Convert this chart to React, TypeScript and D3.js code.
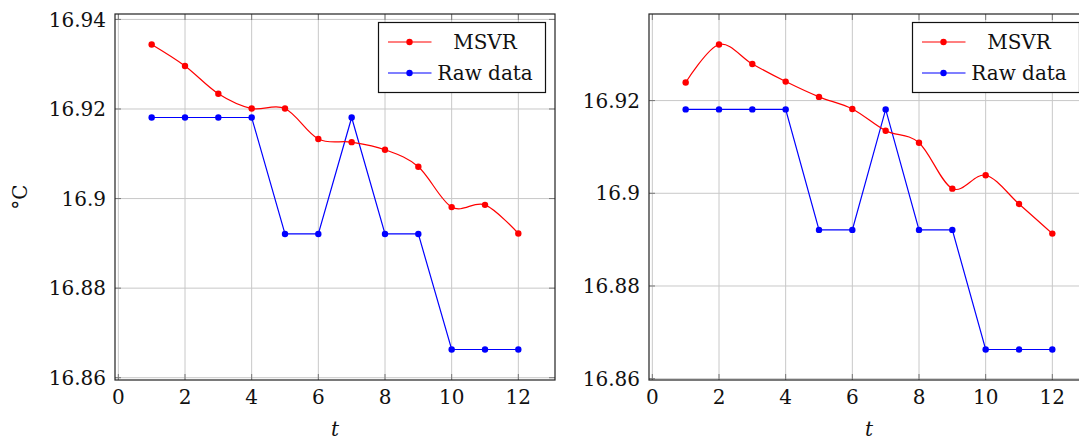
import React from 'react'
import * as d3 from 'd3'

// time steps
const steps = [1, 2, 3, 4, 5, 6, 7, 8, 9, 10, 11, 12]

// measured temperature (same in both panels)
const rawData = [16.9181, 16.9181, 16.9181, 16.9181, 16.8921, 16.8921, 16.9181, 16.8921, 16.8921, 16.8663, 16.8663, 16.8663]

// MSVR predictions
const msvrLeft = [16.9344, 16.9296, 16.9234, 16.9201, 16.9201, 16.9133, 16.9126, 16.9109, 16.9071, 16.8981, 16.8986, 16.8922]
const msvrRight = [16.9239, 16.9321, 16.9279, 16.9241, 16.9208, 16.9182, 16.9135, 16.9109, 16.9010, 16.9039, 16.8977, 16.8913]

const xTicks = [0, 2, 4, 6, 8, 10, 12]
const yTicksLeft = [16.86, 16.88, 16.9, 16.92, 16.94]
const yTicksRight = [16.86, 16.88, 16.9, 16.92]

const legendLabels = ['MSVR', 'Raw data']

const FONT = "'DejaVu Serif', serif"
const RED = '#ff0000'
const BLUE = '#0000ff'

function Panel({ left, msvr, yTicks, ylabel }) {
  const margin = { top: 14, bottom: 380 }
  const width = 440
  const right = left + width

  // pgfplots style enlarged limits (10% of range on each side)
  const xExt = d3.extent(steps)
  const xPad = (xExt[1] - xExt[0]) * 0.1
  const x = d3.scaleLinear()
    .domain([xExt[0] - xPad, xExt[1] + xPad])
    .range([left, right])

  const yExt = d3.extent([...msvr, ...rawData])
  const yPad = (yExt[1] - yExt[0]) * 0.1
  const y = d3.scaleLinear()
    .domain([yExt[0] - yPad, yExt[1] + yPad])
    .range([margin.bottom, margin.top])

  const smooth = d3.line()
    .x((d, i) => x(steps[i]))
    .y(d => y(d))
    .curve(d3.curveCardinal.tension(0))
  const straight = d3.line()
    .x((d, i) => x(steps[i]))
    .y(d => y(d))

  const fmt = v => String(+v.toFixed(2))

  const legW = 167, legH = 70
  const legX = right - 9.5 - legW
  const legY = margin.top + 8.5
  const series = [
    { name: legendLabels[0], color: RED },
    { name: legendLabels[1], color: BLUE }
  ]

  return (
    <g>
      {/* grid */}
      {xTicks.map(t => (
        <line key={'gx' + t} x1={x(t)} x2={x(t)} y1={margin.top} y2={margin.bottom}
          stroke="#c8c8c8" strokeWidth={1} />
      ))}
      {yTicks.map(t => (
        <line key={'gy' + t} x1={left} x2={right} y1={y(t)} y2={y(t)}
          stroke="#c8c8c8" strokeWidth={1} />
      ))}
      {/* inner tick marks */}
      {xTicks.map(t => (
        <g key={'tx' + t} stroke="#777" strokeWidth={1}>
          <line x1={x(t)} x2={x(t)} y1={margin.bottom} y2={margin.bottom - 6} />
          <line x1={x(t)} x2={x(t)} y1={margin.top} y2={margin.top + 6} />
        </g>
      ))}
      {yTicks.map(t => (
        <g key={'ty' + t} stroke="#777" strokeWidth={1}>
          <line x1={left} x2={left + 6} y1={y(t)} y2={y(t)} />
          <line x1={right} x2={right - 6} y1={y(t)} y2={y(t)} />
        </g>
      ))}

      {/* series */}
      <path d={straight(rawData)} fill="none" stroke={BLUE} strokeWidth={1.2} />
      {rawData.map((d, i) => (
        <circle key={'rb' + i} cx={x(steps[i])} cy={y(d)} r={3.2} fill={BLUE} />
      ))}
      <path d={smooth(msvr)} fill="none" stroke={RED} strokeWidth={1.2} />
      {msvr.map((d, i) => (
        <circle key={'mr' + i} cx={x(steps[i])} cy={y(d)} r={3.2} fill={RED} />
      ))}

      {/* axis box */}
      <rect x={left} y={margin.top} width={width} height={margin.bottom - margin.top}
        fill="none" stroke="#222" strokeWidth={1.2} />

      {/* tick labels */}
      {xTicks.map(t => (
        <text key={'lx' + t} x={x(t)} y={404} textAnchor="middle"
          fontFamily={FONT} fontSize={20} fill="#111">{fmt(t)}</text>
      ))}
      {yTicks.map(t => (
        <text key={'ly' + t} x={left - 9} y={y(t)} dy="0.36em" textAnchor="end"
          fontFamily={FONT} fontSize={20} fill="#111">{fmt(t)}</text>
      ))}

      {/* axis labels */}
      <text x={(left + right) / 2} y={436} textAnchor="middle" fontFamily={FONT}
        fontSize={20} fontStyle="italic" fill="#111">t</text>
      {ylabel && (
        <text transform={`translate(${left - 88},${(margin.top + margin.bottom) / 2}) rotate(-90)`}
          textAnchor="middle" fontFamily={FONT} fontSize={20} fill="#111">{ylabel}</text>
      )}

      {/* legend */}
      <rect x={legX} y={legY} width={legW} height={legH} fill="#fff" stroke="#111" strokeWidth={1.2} />
      {series.map((s, i) => {
        const cy = legY + 19.5 + i * 31
        return (
          <g key={s.name}>
            <line x1={legX + 9.5} x2={legX + 53} y1={cy} y2={cy} stroke={s.color} strokeWidth={1.2} />
            <circle cx={legX + 31} cy={cy} r={3.2} fill={s.color} />
            <text x={legX + 106.5} y={cy} dy="0.36em" textAnchor="middle"
              fontFamily={FONT} fontSize={20} fill="#111">{s.name}</text>
          </g>
        )
      })}
    </g>
  )
}

export default function App() {
  return (
    <svg width={1079} height={443} style={{ position: 'absolute', left: 0, top: 0, background: '#fff' }}>
      <Panel left={115} msvr={msvrLeft} yTicks={yTicksLeft} ylabel="°C" />
      <Panel left={649} msvr={msvrRight} yTicks={yTicksRight} />
    </svg>
  )
}
